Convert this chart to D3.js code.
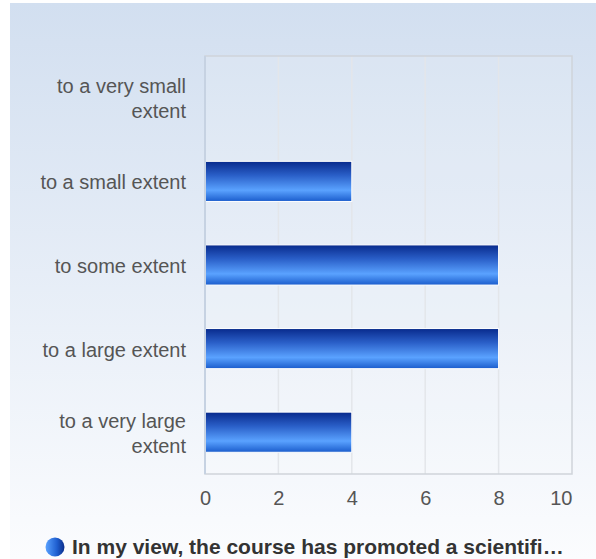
<!DOCTYPE html>
<html><head><meta charset="utf-8">
<script src="https://cdn.jsdelivr.net/npm/d3@7"></script>
<style>html,body{margin:0;padding:0;background:#fff;}svg{display:block;}</style>
</head><body>
<svg id="c" width="596" height="559"></svg>
<script>
const categories = [["to a very small","extent"],["to a small extent"],["to some extent"],["to a large extent"],["to a very large","extent"]];
const values = [0, 4, 8, 8, 4];
const xTicks = [0, 2, 4, 6, 8, 10];
const seriesName = "In my view, the course has promoted a scientifi\u2026";

const svg = d3.select("#c");
const defs = svg.append("defs");
const bg = defs.append("linearGradient").attr("id","bg").attr("x1",0).attr("y1",0).attr("x2",0).attr("y2",1);
bg.append("stop").attr("offset","0%").attr("stop-color","#d2dff0");
bg.append("stop").attr("offset","100%").attr("stop-color","#fbfcfe");
const bar = defs.append("linearGradient").attr("id","bar").attr("x1",0).attr("y1",0).attr("x2",0).attr("y2",1);
bar.append("stop").attr("offset","0%").attr("stop-color","#082a8c");
bar.append("stop").attr("offset","35%").attr("stop-color","#2a5fc8");
bar.append("stop").attr("offset","72%").attr("stop-color","#5aa2ff");
bar.append("stop").attr("offset","100%").attr("stop-color","#1a5ccc");
const leg = defs.append("linearGradient").attr("id","leg").attr("x1",0).attr("y1",0).attr("x2",1).attr("y2",0);
leg.append("stop").attr("offset","0%").attr("stop-color","#5aa2ff");
leg.append("stop").attr("offset","60%").attr("stop-color","#1f5fd0");
leg.append("stop").attr("offset","100%").attr("stop-color","#0a2d8a");

svg.append("rect").attr("x",10).attr("y",3).attr("width",586).attr("height",556).attr("fill","url(#bg)");

const L=205, R=572, T=56, B=474;
const x = d3.scaleLinear().domain([0,10]).range([L,R]);
const y = d3.scaleBand().domain(d3.range(categories.length)).range([T,B]).paddingInner(0.52).paddingOuter(0.26);

svg.append("rect").attr("x",L).attr("y",T).attr("width",R-L).attr("height",B-T).attr("fill","rgba(255,255,255,0.12)");

const g = svg.append("g");
g.selectAll("line.grid").data(xTicks.slice(1,-1)).join("line")
  .attr("x1",d=>x(d)).attr("x2",d=>x(d)).attr("y1",T).attr("y2",B)
  .attr("stroke","#e3e6ea").attr("stroke-width",1.5);
svg.append("rect").attr("x",L).attr("y",T).attr("width",R-L).attr("height",B-T)
  .attr("fill","none").attr("stroke","#cfd4da").attr("stroke-width",1.5);
svg.append("line").attr("x1",L).attr("x2",L).attr("y1",T).attr("y2",B).attr("stroke","#c6d2e2").attr("stroke-width",2);

g.selectAll("rect.bar").data(values).join("rect")
  .attr("class","bar")
  .attr("x",x(0)).attr("y",(d,i)=>y(i))
  .attr("width",d=>d>0?x(d)-x(0):0).attr("height",y.bandwidth())
  .attr("fill","url(#bar)").attr("stroke","#ffffff").attr("stroke-width",1)
  .attr("display",d=>d>0?null:"none");

const FF = "Liberation Sans, Arial, sans-serif";
const xAxis = d3.axisBottom(x).tickValues(xTicks).tickSize(0).tickPadding(0);
const ax = svg.append("g").attr("transform",`translate(0,${B})`).call(xAxis);
ax.select(".domain").remove();
ax.selectAll("text").attr("font-family",FF).attr("font-size",20)
  .attr("fill","#555").attr("dy",null).attr("y",31);
ax.selectAll(".tick").filter(d=>d===xTicks[xTicks.length-1]).select("text")
  .attr("text-anchor","end").attr("x",0);

const yl = svg.append("g");
categories.forEach((lines,i)=>{
  const cy = y(i)+y.bandwidth()/2;
  const t = yl.append("text").attr("text-anchor","end").attr("font-family",FF)
    .attr("font-size",20).attr("fill","#555");
  const n = lines.length, lh = 25;
  lines.forEach((s,j)=>{
    t.append("tspan").attr("x",186).attr("y",cy + (j-(n-1)/2)*lh + 8).text(s);
  });
});

svg.append("circle").attr("cx",55).attr("cy",547).attr("r",9.5).attr("fill","url(#leg)");
svg.append("text").attr("x",72).attr("y",554).attr("font-family",FF)
  .attr("font-size",21).attr("font-weight","bold").attr("fill","#333").text(seriesName);
</script>
</body></html>
